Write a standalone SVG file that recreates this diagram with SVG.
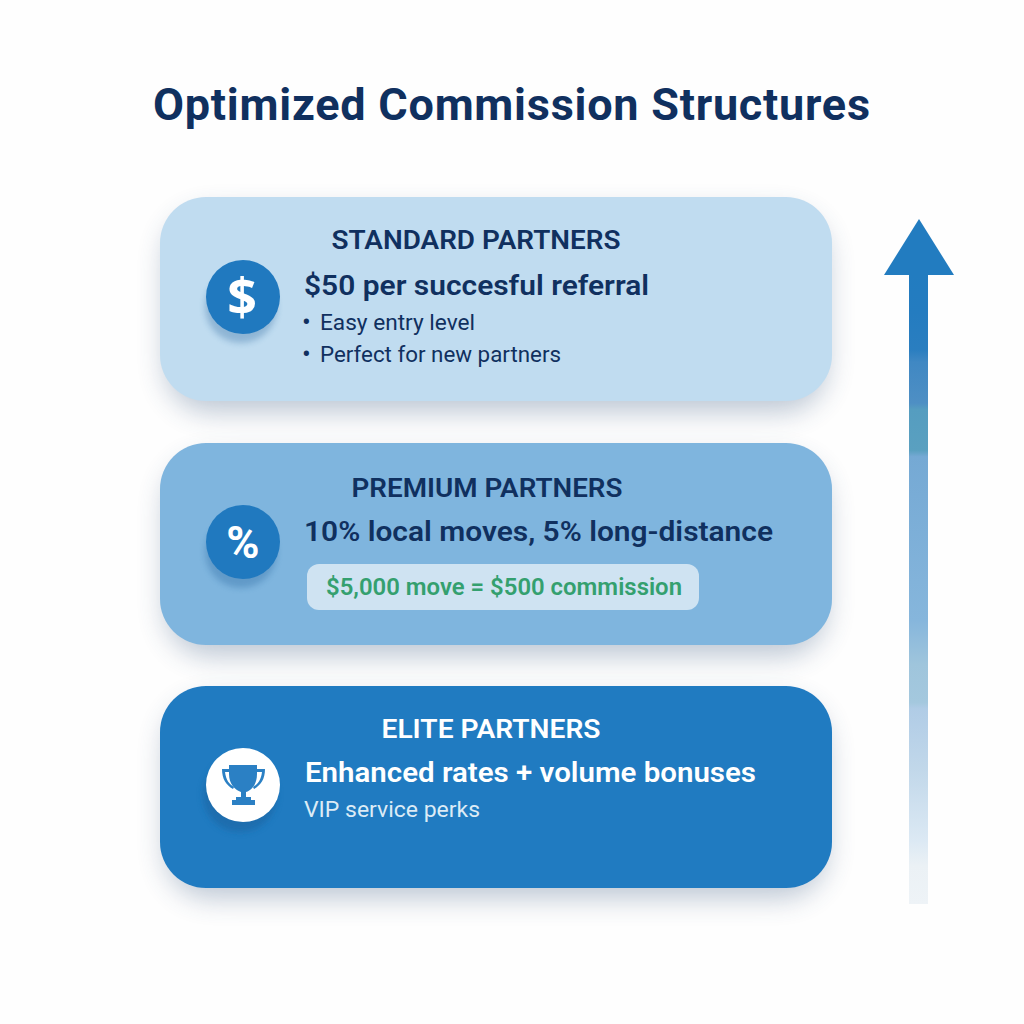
<svg xmlns="http://www.w3.org/2000/svg" width="1024" height="1024" viewBox="0 0 1024 1024">
<defs>
<filter id="sh" x="-15%" y="-30%" width="130%" height="170%"><feGaussianBlur stdDeviation="14"/></filter>
<filter id="csh" x="-40%" y="-40%" width="180%" height="180%"><feGaussianBlur stdDeviation="3"/></filter>
<linearGradient id="shaft" gradientUnits="userSpaceOnUse" x1="0" y1="274" x2="0" y2="904">
<stop offset="0" stop-color="#227cc0"/><stop offset="0.06" stop-color="#247cc0"/><stop offset="0.12" stop-color="#2a7ec0"/><stop offset="0.14" stop-color="#4088c3"/><stop offset="0.205" stop-color="#4e8fc4"/><stop offset="0.215" stop-color="#559dc0"/><stop offset="0.28" stop-color="#5aa0c0"/><stop offset="0.29" stop-color="#75a9d4"/><stop offset="0.55" stop-color="#86b6dc"/><stop offset="0.62" stop-color="#9fc5dc"/><stop offset="0.68" stop-color="#a4c8de"/><stop offset="0.69" stop-color="#b0cce6"/><stop offset="0.79" stop-color="#c2d8ea"/><stop offset="0.9" stop-color="#dce9f4"/><stop offset="0.94" stop-color="#ebf1f5"/><stop offset="1" stop-color="#eef3f7"/>
</linearGradient>
</defs>
<style>
text{font-family:Roboto,"Liberation Sans",sans-serif}
.t{font-size:25.5px;font-weight:600}
.h{font-size:28px;font-weight:600}
.b{font-size:22px;font-weight:400}
.dot{font-size:26px;font-weight:400}
.navy{fill:#10305f}
.ic{fill:#2079bf}
.s{fill:#33527a;opacity:.32}
.sc{fill:#1a5c96;opacity:.3}
</style>
<rect width="1024" height="1024" fill="#fefefe"/>
<text x="153" y="120" font-size="45" font-weight="700" fill="#10305f" textLength="717" lengthAdjust="spacing">Optimized Commission Structures</text>

<g id="connectors">
<rect x="909" y="274" width="19" height="630" fill="url(#shaft)"/>
<polygon points="919,219 954,275 884,275" fill="#227cc0"/>
</g>

<g id="standard">
<rect x="165" y="212" width="662" height="200" rx="46" class="s" filter="url(#sh)"/>
<rect x="160" y="197" width="672" height="204" rx="46" fill="#c0dcf0"/>
<circle cx="241" cy="307" r="36" class="sc" filter="url(#csh)"/>
<circle cx="243" cy="297" r="37" class="ic"/>
<text x="242" y="316" text-anchor="middle" font-size="52" font-weight="700" fill="#fff" style="font-family:'Open Sans',sans-serif">$</text>
<text x="476" y="249" text-anchor="middle" class="t navy" textLength="289" lengthAdjust="spacingAndGlyphs">STANDARD PARTNERS</text>
<text x="304" y="295" class="h navy" textLength="345" lengthAdjust="spacingAndGlyphs">$50 per succesful referral</text>
<text x="302" y="331" class="dot navy">•</text>
<text x="320" y="330" class="b navy" textLength="155" lengthAdjust="spacingAndGlyphs">Easy entry level</text>
<text x="302" y="363" class="dot navy">•</text>
<text x="320" y="362" class="b navy" textLength="241" lengthAdjust="spacingAndGlyphs">Perfect for new partners</text>
</g>

<g id="premium">
<rect x="165" y="458" width="662" height="198" rx="46" class="s" filter="url(#sh)"/>
<rect x="160" y="443" width="672" height="202" rx="46" fill="#7fb5de"/>
<circle cx="241" cy="552" r="36" class="sc" filter="url(#csh)"/>
<circle cx="243" cy="542" r="37" class="ic"/>
<text x="243" y="558" text-anchor="middle" font-size="45" font-weight="700" fill="#fff">%</text>
<text x="487" y="497" text-anchor="middle" class="t navy" textLength="271" lengthAdjust="spacingAndGlyphs">PREMIUM PARTNERS</text>
<text x="304" y="541" class="h navy" textLength="469" lengthAdjust="spacingAndGlyphs">10% local moves, 5% long-distance</text>
<rect x="307" y="564" width="392" height="46" rx="12" fill="#cfe3f2"/>
<text x="504" y="595" text-anchor="middle" font-size="23" font-weight="600" fill="#34a06f" textLength="356" lengthAdjust="spacingAndGlyphs">$5,000 move = $500 commission</text>
</g>

<g id="elite">
<rect x="165" y="700" width="662" height="198" rx="46" class="s" filter="url(#sh)"/>
<rect x="160" y="686" width="672" height="202" rx="46" fill="#207bc1"/>
<circle cx="240" cy="795" r="37" fill="#1a68a6" opacity=".7" filter="url(#csh)"/>
<circle cx="243" cy="785" r="37" fill="#fff"/>
<g fill="#2b80c4">
<path d="M229 765h28v9c0 10-5 16-11 18v6h-5v-6c-6-2-12-8-12-18z"/>
<path d="M222 769h10v3h-7c1 8 4 12 9 15l-1 2c-7-4-11-10-11-20zM265 769h-10v3h7c-1 8-4 12-9 15l1 2c7-4 11-10 11-20z"/>
<rect x="236" y="797" width="15" height="4"/>
<rect x="232" y="800" width="23" height="5"/>
</g>
<text x="491" y="738" text-anchor="middle" class="t" fill="#fff" textLength="219" lengthAdjust="spacingAndGlyphs">ELITE PARTNERS</text>
<text x="305" y="782" class="h" fill="#fff" textLength="451" lengthAdjust="spacingAndGlyphs">Enhanced rates + volume bonuses</text>
<text x="304" y="817" class="b" fill="#dcebf6" textLength="176" lengthAdjust="spacingAndGlyphs">VIP service perks</text>
</g>
</svg>
